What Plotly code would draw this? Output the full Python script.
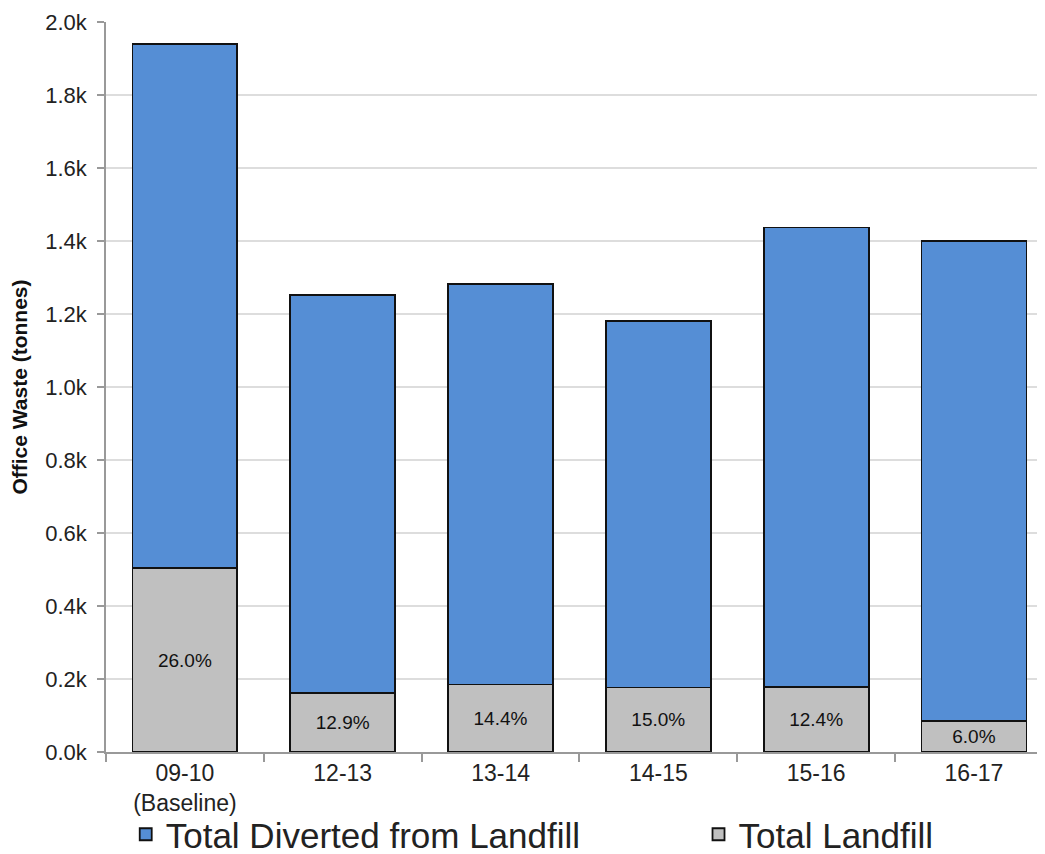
import plotly.graph_objects as go

categories = ["09-10<br>(Baseline)", "12-13", "13-14", "14-15", "15-16", "16-17"]
landfill = [504, 162, 185, 177, 179, 84]
diverted = [1436, 1091, 1098, 1003, 1258, 1316]
pct_labels = ["26.0%", "12.9%", "14.4%", "15.0%", "12.4%", "6.0%"]
y_tick_vals = [0, 200, 400, 600, 800, 1000, 1200, 1400, 1600, 1800, 2000]
y_tick_text = ["0.0k", "0.2k", "0.4k", "0.6k", "0.8k", "1.0k", "1.2k", "1.4k", "1.6k", "1.8k", "2.0k"]

FONT = "Liberation Sans, Arial, sans-serif"

fig = go.Figure()
fig.add_trace(go.Bar(
    x=categories, y=landfill, name="Total Landfill",
    marker=dict(color="#C0C0C0", line=dict(color="#111111", width=1.8)),
    text=pct_labels, textposition="inside", insidetextanchor="middle",
    textangle=0, constraintext="none",
    textfont=dict(size=19, color="#111111", family=FONT),
    legend="legend2",
))
fig.add_trace(go.Bar(
    x=categories, y=diverted, name="Total Diverted from Landfill",
    marker=dict(color="#558ED5", line=dict(color="#111111", width=1.8)),
    legend="legend",
))

legend_common = dict(
    orientation="h", xanchor="left", yanchor="middle",
    font=dict(size=35, family=FONT, color="#222222"),
    bgcolor="rgba(0,0,0,0)",
)

fig.update_layout(
    width=1045, height=854,
    barmode="stack", bargap=0.335,
    plot_bgcolor="white", paper_bgcolor="white",
    margin=dict(l=98, r=8, t=14, b=110, autoexpand=False),
    font=dict(family=FONT, color="#222222"),
    showlegend=True,
    legend=dict(x=0.021, y=-0.113, **legend_common),
    legend2=dict(x=0.631, y=-0.113, **legend_common),
)
fig.update_xaxes(
    type="category", range=[-0.5, 5.45],
    tickson="boundaries", ticks="outside", ticklen=8, tickcolor="#999999", tickwidth=1.5,
    showline=True, linecolor="#999999", linewidth=1.5,
    showgrid=False, automargin=False,
    tickfont=dict(size=23, family=FONT, color="#222222"),
)
fig.update_yaxes(
    range=[0, 2000], tickvals=y_tick_vals, ticktext=y_tick_text,
    ticks="outside", ticklen=7, tickcolor="#999999", tickwidth=1.5,
    ticklabelstandoff=6,
    showline=True, linecolor="#999999", linewidth=1.5,
    showgrid=True, gridcolor="#DDDDDD", gridwidth=1.5,
    tickfont=dict(size=22, family=FONT, color="#222222"),
    title=dict(text="<b>Office Waste (tonnes)</b>", font=dict(size=21, family=FONT, color="#111111"), standoff=14),
    zeroline=False, automargin=False,
)

fig.write_html("out.html")
